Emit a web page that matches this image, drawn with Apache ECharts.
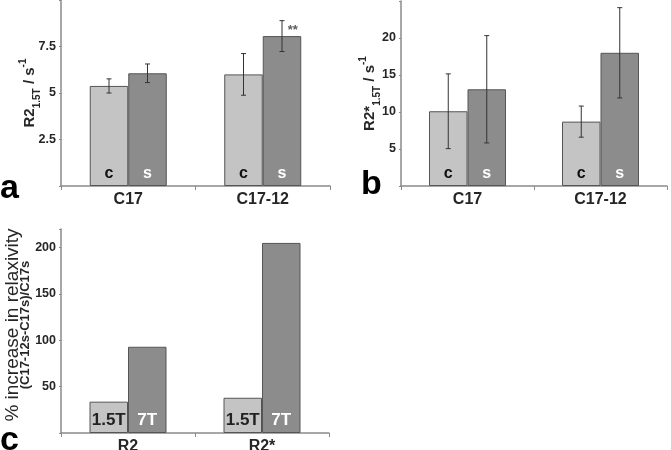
<!DOCTYPE html>
<html><head><meta charset="utf-8">
<script src="https://cdn.jsdelivr.net/npm/echarts@6/dist/echarts.min.js"></script>
<style>html,body{margin:0;padding:0;background:#fff}#c{width:671px;height:450px}</style>
</head><body><div id="c"></div>
<script>
// ---- data ----
const catsAB = ['C17', 'C17-12'];
const catsC = ['R2', 'R2*'];
const barLabelsAB = ['c', 's'];
const barLabelsC = ['1.5T', '7T'];
const aC = [5.38, 6.0];
const aS = [6.06, 8.06];
const aCerr = [0.38, 1.12];
const aSerr = [0.5, 0.83];
const bC = [10.1, 8.7];
const bS = [13.07, 18.0];
const bCerr = [5.05, 2.1];
const bSerr = [7.25, 6.1];
const c15 = [33.8, 38];
const c7 = [93, 205];
const aSignif = ['', '**'];
const cTitle = '% increase in relaxivity';
const cSubtitle = '(C17-12s-C17s)/C17s';

const LIGHT = '#c4c4c4', DARK = '#8c8c8c', EDGE = '#555', AX = '#8a8a8a', TXT = '#262626';
const FF = 'Liberation Sans, Arial, sans-serif';
const BW = 38.5;

function grid(l, t, r, b) { return {left: l, top: t, right: r, bottom: b, containLabel: false, outerBoundsMode: 'none'}; }
function xAxis(idx, cats) {
  return {gridIndex: idx, type: 'category', data: cats,
    axisLine: {lineStyle: {color: AX, width: 1.5}},
    axisTick: {show: true, length: 4, lineStyle: {color: AX}},
    axisLabel: {fontFamily: FF, fontWeight: 'bold', fontSize: 16, color: TXT, margin: 6}};
}
function yAxis(idx, max, interval, hideAbove, name, nameGap, nts) {
  return {gridIndex: idx, type: 'value', position: 'left', offset: 0, min: 0, max: max, interval: interval,
    splitLine: {show: false},
    axisLine: {show: true, lineStyle: {color: AX, width: 1.5}},
    axisTick: {show: true, length: 2, lineStyle: {color: AX}},
    axisLabel: {fontFamily: FF, fontWeight: 'bold', fontSize: 12.5, color: TXT, margin: 5,
      formatter: v => (v === 0 || v > hideAbove) ? '' : String(v)},
    name: name, nameLocation: 'middle', nameGap: nameGap, nameRotate: 90, nameMoveOverlap: false,
    nameTextStyle: Object.assign({fontFamily: FF, color: TXT}, nts)};
}
function barSeries(idx, data, color, labelTxt, labelColor, fs) {
  return {type: 'bar', xAxisIndex: idx, yAxisIndex: idx, data: data, barWidth: BW, barGap: '0%',
    itemStyle: {color: color, borderColor: EDGE, borderWidth: 1},
    label: {show: true, position: 'insideBottom', distance: 4, formatter: labelTxt,
      fontFamily: FF, fontWeight: 'bold', fontSize: fs, color: labelColor},
    z: 2};
}
function errSeries(idx, vals, errs, side) {
  return {type: 'custom', xAxisIndex: idx, yAxisIndex: idx, z: 5,
    data: vals.map((v, i) => [i, v, errs[i]]),
    renderItem: function (params, api) {
      const i = api.value(0), v = api.value(1), e = api.value(2);
      const top = api.coord([i, v + e]);
      const bot = api.coord([i, v - e]);
      const x = top[0] + side * BW / 2;
      const cap = 2.5;
      const st = {stroke: '#333', lineWidth: 1};
      return {type: 'group', children: [
        {type: 'line', shape: {x1: x, y1: top[1], x2: x, y2: bot[1]}, style: st},
        {type: 'line', shape: {x1: x - cap, y1: top[1], x2: x + cap, y2: top[1]}, style: st},
        {type: 'line', shape: {x1: x - cap, y1: bot[1], x2: x + cap, y2: bot[1]}, style: st}
      ]};
    }};
}

const richAB = {
  m: {fontFamily: FF, fontSize: 15, fontWeight: 'bold', color: TXT, verticalAlign: 'middle', lineHeight: 24},
  sub: {fontFamily: FF, fontSize: 10, fontWeight: 'bold', color: TXT, verticalAlign: 'bottom', lineHeight: 24},
  sup: {fontFamily: FF, fontSize: 10, fontWeight: 'bold', color: TXT, verticalAlign: 'top', lineHeight: 24}
};

const yC2 = yAxis(2, 220, 50, 200, cSubtitle, 28,
  {fontSize: 13, fontWeight: 'bold', lineHeight: 16, padding: [0, 0, 0, 12]});
yC2.axisLine = {show: false};
yC2.axisTick = {show: false};
yC2.axisLabel = {show: false};

const option = {
  animation: false,
  grid: [grid(61, 0, 341, 264), grid(401, 1, 4, 264), grid(61, 229, 342, 17)],
  xAxis: [xAxis(0, catsAB), xAxis(1, catsAB), xAxis(2, catsC)],
  yAxis: [
    yAxis(0, 10, 2.5, 7.5, '{m|R2}{sub|1.5T}{m| / s}{sup|-1}', 19, {rich: richAB}),
    yAxis(1, 25, 5, 20, '{m|R2*}{sub|1.5T}{m| / s}{sup|-1}', 19, {rich: richAB}),
    yAxis(2, 220, 50, 200, cTitle, 37, {fontSize: 19, lineHeight: 22, padding: [0, 0, 0, 12]}),
    yC2
  ],
  series: [
    barSeries(0, aC, LIGHT, barLabelsAB[0], '#111', 16),
    barSeries(0, aS, DARK, barLabelsAB[1], '#fff', 16),
    errSeries(0, aC, aCerr, -1),
    errSeries(0, aS, aSerr, 1),
    {type: 'scatter', xAxisIndex: 0, yAxisIndex: 0, symbolSize: 0, z: 6,
      data: aS.map((v, i) => ({value: [i, v], label: {show: aSignif[i] !== '', formatter: aSignif[i]}})),
      label: {position: 'top', offset: [30, 6], fontFamily: FF, fontWeight: 'bold', fontSize: 13, color: '#333'}},
    barSeries(1, bC, LIGHT, barLabelsAB[0], '#111', 16),
    barSeries(1, bS, DARK, barLabelsAB[1], '#fff', 16),
    errSeries(1, bC, bCerr, -1),
    errSeries(1, bS, bSerr, 1),
    barSeries(2, c15, LIGHT, barLabelsC[0], '#222', 17),
    barSeries(2, c7, DARK, barLabelsC[1], '#fff', 17)
  ],
  graphic: [
    {type: 'text', left: 0, top: 172, style: {text: 'a', font: 'bold 34px ' + FF, fill: '#000'}},
    {type: 'text', left: 361, top: 168, style: {text: 'b', font: 'bold 34px ' + FF, fill: '#000'}},
    {type: 'text', left: 0, top: 424, style: {text: 'c', font: 'bold 34px ' + FF, fill: '#000'}}
  ]
};
const chart = echarts.init(document.getElementById('c'), null, {renderer: 'canvas'});
chart.setOption(option);
</script></body></html>
